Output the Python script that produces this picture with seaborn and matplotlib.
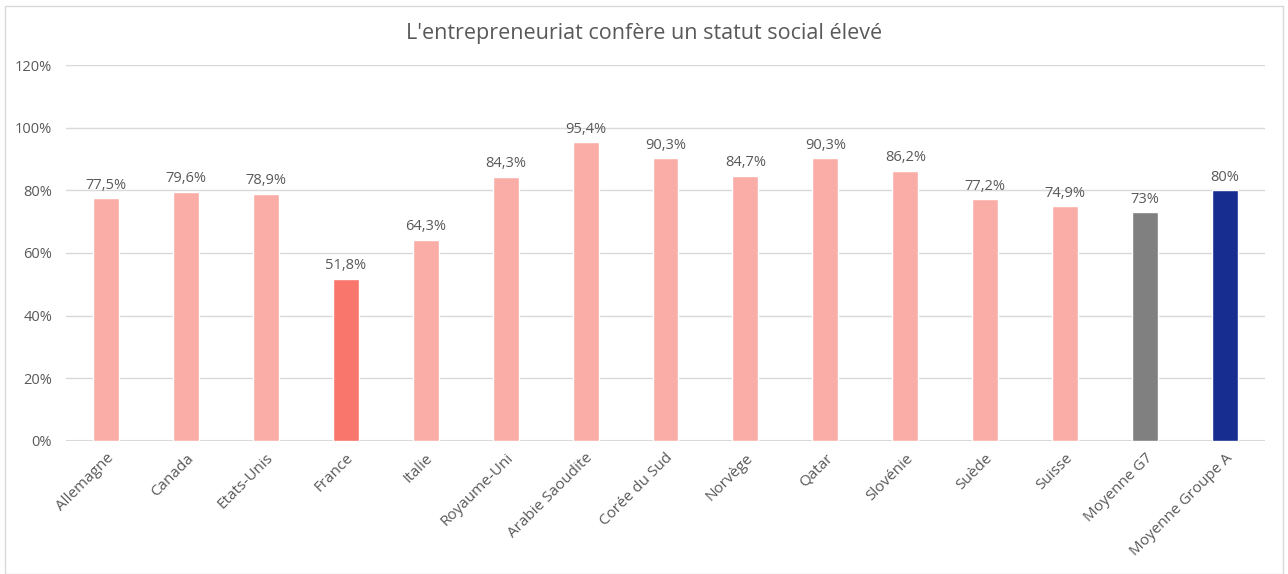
import matplotlib
matplotlib.use("Agg")
import matplotlib.pyplot as plt
import seaborn as sns
import pandas as pd
from matplotlib.patches import Rectangle

categories = ["Allemagne", "Canada", "Etats-Unis", "France", "Italie", "Royaume-Uni",
              "Arabie Saoudite", "Corée du Sud", "Norvège", "Qatar", "Slovénie",
              "Suède", "Suisse", "Moyenne G7", "Moyenne Groupe A"]
values = [77.5, 79.6, 78.9, 51.8, 64.3, 84.3, 95.4, 90.3, 84.7, 90.3, 86.2, 77.2, 74.9, 73, 80]
labels = ["77,5%", "79,6%", "78,9%", "51,8%", "64,3%", "84,3%", "95,4%", "90,3%", "84,7%",
          "90,3%", "86,2%", "77,2%", "74,9%", "73%", "80%"]
ytick_vals = [0, 20, 40, 60, 80, 100, 120]
title = "L'entrepreneuriat confère un statut social élevé"

pink = "#F9ADA6"
colors = [pink] * 15
colors[3] = "#F8766B"
colors[13] = "#808080"
colors[14] = "#172D8F"

sns.set_theme(style="white")
plt.rcParams["font.family"] = ["Open Sans", "DejaVu Sans"]
txt = "#595959"

df = pd.DataFrame({"cat": categories, "val": values})

fig = plt.figure(figsize=(12.88, 5.74), dpi=100)
ax = fig.add_axes([66/1288, 1 - 441/574, (1265-66)/1288, (441-65)/574])
sns.barplot(data=df, x="cat", y="val", hue="cat", palette=colors, legend=False,
            width=0.325, ax=ax, saturation=1)
ax.set_ylim(0, 120)
ax.set_xlim(-0.5, len(categories) - 0.5)
ax.set_yticks(ytick_vals)
ax.set_yticklabels([f"{v}%" for v in ytick_vals], color=txt, fontsize=10.5)
ax.yaxis.grid(True, color="#D9D9D9", linewidth=1)
ax.set_axisbelow(True)
for s in ax.spines.values():
    s.set_visible(False)
ax.axhline(0, color="#D9D9D9", linewidth=1.5, zorder=0.5)
ax.tick_params(axis="y", length=0, pad=10)
ax.tick_params(axis="x", length=0, pad=7)
ax.set_xlabel("")
ax.set_ylabel("")
ax.set_xticks(range(len(categories)))
ax.set_xticklabels(categories, rotation=45, ha="right", rotation_mode="anchor",
                   color=txt, fontsize=11)
for i, (v, l) in enumerate(zip(values, labels)):
    ax.annotate(l, (i, v), xytext=(0, 4), textcoords="offset points",
                ha="center", va="bottom", color=txt, fontsize=10.5)

fig.text(0.5, 1 - 33/574, title, ha="center", va="center", color=txt, fontsize=15.5)
fig.patches.append(Rectangle((5/1288, 0), 1278/1288, 1 - 6/574, transform=fig.transFigure,
                             fill=False, edgecolor="#D9D9D9", linewidth=1))
fig.savefig("out.png", dpi=100)
